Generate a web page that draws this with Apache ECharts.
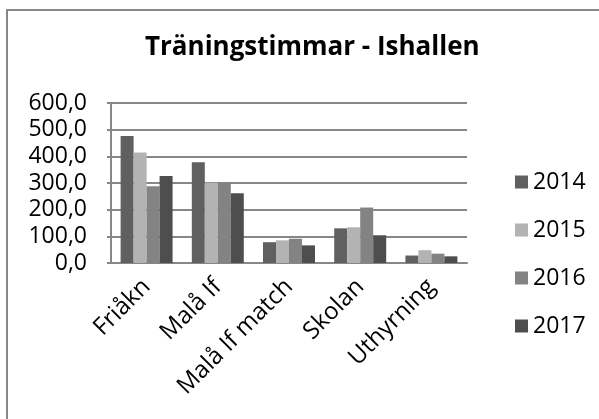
<!DOCTYPE html>
<html>
<head>
<meta charset="utf-8">
<script src="https://cdn.jsdelivr.net/npm/echarts@6/dist/echarts.min.js"></script>
<style>
  html, body { margin: 0; padding: 0; background: #fff; }
  #chart { width: 599px; height: 419px; }
</style>
</head>
<body>
<div id="chart"></div>
<script>
  // data
  var categories = ['Friåkn', 'Malå If', 'Malå If match', 'Skolan', 'Uthyrning'];
  var years = ['2014', '2015', '2016', '2017'];
  var values2014 = [476, 378, 78, 130, 28];
  var values2015 = [414, 301, 85, 134, 48];
  var values2016 = [288, 301, 91, 208, 35];
  var values2017 = [326, 262, 66, 104, 25];
  var yTicks = [0, 100, 200, 300, 400, 500, 600];

  var colors = ['#606060', '#b3b3b3', '#838383', '#4e4e4e'];
  var allValues = [values2014, values2015, values2016, values2017];
  var font = '"Open Sans", sans-serif';

  var series = [];
  for (var i = 0; i < years.length; i++) {
    series.push({
      name: years[i],
      type: 'bar',
      data: allValues[i],
      barGap: 0,
      barCategoryGap: '27%',
      itemStyle: { color: colors[i] }
    });
  }

  var myChart = echarts.init(document.getElementById('chart'));
  myChart.setOption({
    animation: false,
    color: colors,
    title: {
      text: 'Träningstimmar - Ishallen',
      left: 140,
      top: 30,
      textStyle: { fontFamily: font, fontWeight: 'bold', fontSize: 26, color: '#000' }
    },
    graphic: [{
      type: 'rect',
      shape: { x: 7, y: 10, width: 640, height: 460 },
      style: { fill: 'none', stroke: '#878787', lineWidth: 2 },
      silent: true
    }],
    legend: {
      orient: 'vertical',
      left: 510,
      top: 165,
      itemWidth: 13,
      itemHeight: 13,
      itemGap: 24,
      icon: 'rect',
      textStyle: { fontFamily: font, fontSize: 23, color: '#000', lineHeight: 24 },
      data: years
    },
    grid: {
      left: 111,
      right: 132,
      top: 103,
      bottom: 156
    },
    xAxis: {
      type: 'category',
      data: categories,
      axisLine: { lineStyle: { color: '#878787', width: 2 } },
      axisTick: { show: false },
      axisLabel: {
        rotate: 45,
        margin: 20,
        interval: 0,
        fontFamily: font,
        fontSize: 24,
        color: '#000'
      }
    },
    yAxis: {
      type: 'value',
      min: yTicks[0],
      max: yTicks[yTicks.length - 1],
      interval: 100,
      axisLine: { show: true, lineStyle: { color: '#878787', width: 2 } },
      axisTick: { show: true, length: 4, lineStyle: { color: '#878787', width: 2 } },
      splitLine: { lineStyle: { color: '#878787', width: 2 } },
      axisLabel: {
        margin: 24,
        fontFamily: font,
        fontSize: 23,
        color: '#000',
        formatter: function (v) { return v.toFixed(1).replace('.', ','); }
      }
    },
    series: series
  });
</script>
</body>
</html>
